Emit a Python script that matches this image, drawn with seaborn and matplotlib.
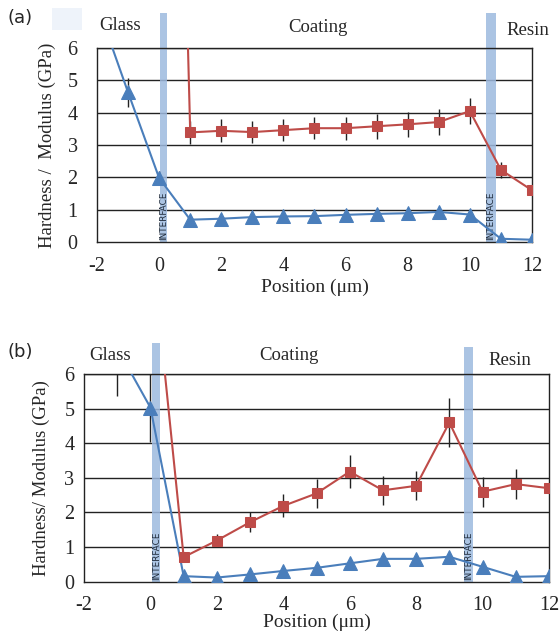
import numpy as np
import pandas as pd
import matplotlib
matplotlib.use("Agg")
import matplotlib.pyplot as plt
import seaborn as sns

# ---- data: panel (a) ----
a_pos_blue = [-2, -1, 0, 1, 2, 3, 4, 5, 6, 7, 8, 9, 10, 11, 12]
a_blue = [7.35, 4.63, 1.98, 0.69, 0.72, 0.77, 0.79, 0.80, 0.84, 0.87, 0.89, 0.93, 0.85, 0.10, 0.07]
a_blue_err = [0, 0.45, 0.22, 0, 0, 0, 0, 0, 0, 0, 0, 0.05, 0, 0, 0]
a_pos_red = [0, 1, 2, 3, 4, 5, 6, 7, 8, 9, 10, 11, 12]
a_red = [40.0, 3.39, 3.44, 3.40, 3.46, 3.52, 3.52, 3.58, 3.64, 3.71, 4.05, 2.23, 1.60]
a_red_err = [0, 0.35, 0.36, 0.35, 0.35, 0.34, 0.36, 0.38, 0.38, 0.39, 0.41, 0.24, 0]

# ---- data: panel (b) ----
b_pos_blue = [-1, 0, 1, 2, 3, 4, 5, 6, 7, 8, 9, 10, 11, 12]
b_blue = [6.75, 5.03, 0.16, 0.12, 0.21, 0.31, 0.40, 0.53, 0.66, 0.66, 0.72, 0.43, 0.14, 0.16]
b_blue_err = [1.38, 1.0, 0, 0, 0, 0, 0, 0, 0, 0, 0.08, 0, 0, 0]
b_pos_red = [0, 1, 2, 3, 4, 5, 6, 7, 8, 9, 10, 11, 12]
b_red = [10.1, 0.71, 1.19, 1.72, 2.19, 2.55, 3.18, 2.64, 2.77, 4.60, 2.60, 2.82, 2.70]
b_red_err = [0, 0, 0.19, 0.28, 0.33, 0.41, 0.47, 0.41, 0.42, 0.72, 0.43, 0.44, 0]

xticks = [-2, 0, 2, 4, 6, 8, 10, 12]
yticks = [0, 1, 2, 3, 4, 5, 6]

BLUE = "#4A7EBB"
RED = "#BE4B48"
BAND = "#9DBADF"

sns.set_theme(style="white")
plt.rcParams["font.family"] = ["Liberation Serif", "DejaVu Serif"]

fig = plt.figure(figsize=(5.59, 6.32), dpi=100)
axA = fig.add_axes([0.1735, 0.6171, 0.7782, 0.3069])
axB = fig.add_axes([0.1503, 0.0796, 0.8318, 0.3286])


def draw(ax, pb, vb, eb, pr, vr, er, bands, band_tops, ylabel,
         ypad, ylabelpad, xpad, xlabelpad):
    dfb = pd.DataFrame({"pos": pb, "val": vb, "err": eb})
    dfr = pd.DataFrame({"pos": pr, "val": vr, "err": er})
    for (x0, x1), top in zip(bands, band_tops):
        ax.axvspan(x0, x1, ymin=0, ymax=top, color=BAND, alpha=0.85, lw=0,
                   clip_on=False, zorder=1)
        ax.text((x0 + x1) / 2, 0.05, "INTERFACE", rotation=90, ha="center",
                va="bottom", fontsize=6.4, family="DejaVu Sans",
                color="#1e2a3a", zorder=2)
    for y in yticks[1:]:
        ax.axhline(y, color="#222222", lw=1.0, zorder=0.5)
    ax.errorbar(dfb["pos"], dfb["val"], yerr=dfb["err"], fmt="none",
                ecolor="#222222", elinewidth=1.0, capsize=0, zorder=3)
    ax.errorbar(dfr["pos"], dfr["val"], yerr=dfr["err"], fmt="none",
                ecolor="#222222", elinewidth=1.0, capsize=0, zorder=3)
    sns.lineplot(data=dfb, x="pos", y="val", ax=ax, color=BLUE, lw=1.5,
                 marker="^", markersize=10, markeredgecolor=BLUE,
                 zorder=4, sort=False)
    sns.lineplot(data=dfr, x="pos", y="val", ax=ax, color=RED, lw=1.5,
                 marker="s", markersize=6.5, markeredgecolor=RED,
                 zorder=4, sort=False)
    ax.set_xlim(-2, 12)
    ax.set_ylim(0, 6)
    ax.set_xticks(xticks)
    ax.set_yticks(yticks)
    ax.set_xticklabels([str(t) for t in xticks])
    ax.tick_params(axis="x", labelsize=14.5, length=4, width=0.8,
                   color="#555555", direction="out", pad=xpad)
    ax.tick_params(axis="y", labelsize=14.5, length=0, pad=ypad)
    ax.set_xlabel("Position (\u03bcm)", fontsize=14, labelpad=xlabelpad)
    ax.set_ylabel(ylabel, fontsize=13.5, labelpad=ylabelpad)
    for s in ax.spines.values():
        s.set_color("#222222")
        s.set_linewidth(1.0)
        s.set_visible(True)
    ax.set_facecolor("white")


draw(axA, a_pos_blue, a_blue, a_blue_err, a_pos_red, a_red, a_red_err,
     bands=[(0.02, 0.26), (10.52, 10.84)], band_tops=[1.18, 1.18],
     ylabel="Hardness /  Modulus (GPa)", ypad=14, ylabelpad=8,
     xpad=7, xlabelpad=2)
draw(axB, b_pos_blue, b_blue, b_blue_err, b_pos_red, b_red, b_red_err,
     bands=[(0.05, 0.30), (9.45, 9.72)], band_tops=[1.15, 1.13],
     ylabel="Hardness/ Modulus (GPa)", ypad=7, ylabelpad=10,
     xpad=6, xlabelpad=-1)

# region labels
fig.text(0.013, 0.972, "(a)", fontsize=13, family="DejaVu Sans", va="center")
fig.add_artist(plt.Rectangle((0.093, 0.953), 0.054, 0.035, transform=fig.transFigure,
                             color="#EEF3FA", lw=0))
fig.text(0.215, 0.960, "Glass", fontsize=13.5, ha="center", va="center")
fig.text(0.568, 0.957, "Coating", fontsize=13.5, ha="center", va="center")
fig.text(0.945, 0.951, "Resin", fontsize=13.5, ha="center", va="center")

fig.text(0.013, 0.443, "(b)", fontsize=13, family="DejaVu Sans", va="center")
fig.text(0.197, 0.438, "Glass", fontsize=13.5, ha="center", va="center")
fig.text(0.516, 0.438, "Coating", fontsize=13.5, ha="center", va="center")
fig.text(0.913, 0.430, "Resin", fontsize=13.5, ha="center", va="center")

fig.savefig("out.png", dpi=100)
